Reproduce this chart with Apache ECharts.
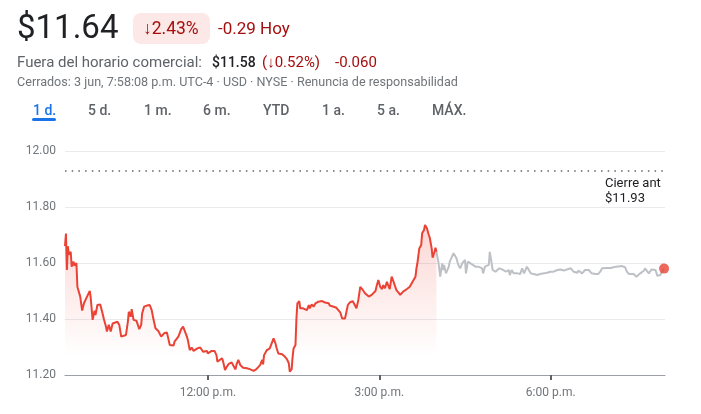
<!DOCTYPE html>
<html>
<head>
<meta charset="utf-8">
<script src="https://cdn.jsdelivr.net/npm/echarts@6/dist/echarts.min.js"></script>
<style>
  html, body { margin: 0; padding: 0; background: #fff; }
  #chart { width: 701px; height: 414px; }
</style>
</head>
<body>
<div id="chart"></div>
<script>
// minutos desde medianoche, precio
const regular = [
  [570, 11.66], [571, 11.705], [572, 11.575], [573, 11.66], [574, 11.63], [576, 11.64], [577, 11.587],
  [579, 11.605], [580, 11.59], [582, 11.60], [583, 11.515], [586, 11.48], [588, 11.43], [590, 11.457],
  [594, 11.486], [596, 11.50], [597, 11.476], [599, 11.397], [601, 11.43], [602, 11.414], [604, 11.45],
  [607, 11.452], [609, 11.426], [611, 11.397], [613, 11.373], [614, 11.355], [616, 11.379], [618, 11.355],
  [620, 11.384], [622, 11.388], [625, 11.39], [627, 11.379], [629, 11.337], [631, 11.333], [634, 11.343],
  [636, 11.39], [637, 11.426], [639, 11.408], [640, 11.435], [642, 11.397], [645, 11.394], [646, 11.39],
  [648, 11.364], [650, 11.379], [651, 11.42], [653, 11.444], [656, 11.448], [659, 11.45], [661, 11.432],
  [663, 11.397], [665, 11.367], [668, 11.357], [670, 11.355], [671, 11.337], [674, 11.349], [677, 11.352],
  [678, 11.337], [680, 11.307], [682, 11.313], [684, 11.305], [685, 11.319], [687, 11.325], [689, 11.337],
  [691, 11.331], [692, 11.364], [694, 11.373], [696, 11.355], [698, 11.337], [699, 11.325], [701, 11.289],
  [703, 11.298], [705, 11.286], [706, 11.293], [709, 11.295], [712, 11.298], [713, 11.293], [715, 11.283],
  [717, 11.281], [719, 11.286], [720, 11.277], [722, 11.283], [724, 11.286], [727, 11.286], [729, 11.271],
  [730, 11.248], [732, 11.254], [735, 11.26], [736, 11.248], [738, 11.218], [740, 11.23], [742, 11.24],
  [743, 11.238], [745, 11.245], [747, 11.24], [749, 11.22], [750, 11.236], [752, 11.254], [754, 11.236],
  [756, 11.236], [757, 11.226], [759, 11.233], [761, 11.224], [763, 11.23], [764, 11.221], [766, 11.226],
  [768, 11.215], [770, 11.214], [771, 11.221], [773, 11.214], [775, 11.236], [777, 11.254], [778, 11.238],
  [779, 11.271], [781, 11.265], [782, 11.289], [784, 11.283], [785, 11.295], [787, 11.313], [789, 11.331],
  [791, 11.313], [792, 11.298], [794, 11.277], [796, 11.271], [798, 11.274], [799, 11.269], [801, 11.265],
  [803, 11.257], [805, 11.242], [806, 11.212], [808, 11.221], [809, 11.265], [810, 11.295], [812, 11.307],
  [813, 11.402], [814, 11.456], [816, 11.464], [817, 11.438], [819, 11.432], [820, 11.438], [822, 11.444],
  [824, 11.432], [826, 11.45], [827, 11.438], [829, 11.452], [831, 11.444], [833, 11.456], [834, 11.452],
  [836, 11.462], [838, 11.459], [840, 11.464], [841, 11.471], [843, 11.459], [845, 11.452], [847, 11.456],
  [848, 11.448], [850, 11.448], [852, 11.444], [854, 11.448], [855, 11.44], [857, 11.438], [859, 11.424],
  [861, 11.402], [862, 11.396], [864, 11.402], [867, 11.45], [869, 11.459], [872, 11.464], [874, 11.452],
  [876, 11.438], [878, 11.468], [880, 11.515], [882, 11.507], [883, 11.51], [885, 11.492], [887, 11.495],
  [889, 11.48], [890, 11.474], [892, 11.486], [894, 11.492], [896, 11.50], [897, 11.515], [899, 11.539],
  [901, 11.515], [903, 11.507], [904, 11.521], [906, 11.51], [908, 11.533], [910, 11.515], [911, 11.507],
  [913, 11.551], [915, 11.533], [917, 11.527], [918, 11.503], [920, 11.495], [922, 11.486], [924, 11.492],
  [925, 11.498], [927, 11.503], [929, 11.507], [931, 11.51], [932, 11.515], [934, 11.519], [936, 11.539],
  [938, 11.551], [939, 11.581], [940, 11.599], [942, 11.652], [944, 11.664], [945, 11.706], [947, 11.718],
  [948, 11.736], [950, 11.724], [952, 11.70], [953, 11.69], [955, 11.652], [956, 11.619], [958, 11.64],
  [959, 11.655], [960, 11.64]
];

// fuera del horario comercial
const afterHours = [
  [960, 11.64], [962, 11.605], [964, 11.551], [966, 11.599], [967, 11.575], [968, 11.593], [970, 11.563],
  [973, 11.587], [974, 11.605], [976, 11.611], [978, 11.635], [980, 11.64], [981, 11.617], [983, 11.593],
  [985, 11.581], [987, 11.599], [988, 11.605], [990, 11.611], [991, 11.563], [993, 11.605], [995, 11.599],
  [997, 11.596], [999, 11.593], [1001, 11.587], [1002, 11.593], [1004, 11.587], [1006, 11.593], [1008, 11.581],
  [1009, 11.563], [1011, 11.587], [1013, 11.589], [1015, 11.593], [1016, 11.64], [1018, 11.599], [1019, 11.575],
  [1022, 11.569], [1023, 11.563], [1026, 11.581], [1029, 11.577], [1030, 11.575], [1033, 11.569], [1036, 11.575],
  [1037, 11.557], [1039, 11.575], [1041, 11.563], [1043, 11.561], [1045, 11.563], [1046, 11.565], [1048, 11.561],
  [1050, 11.581], [1052, 11.563], [1053, 11.569], [1055, 11.587], [1057, 11.575], [1059, 11.563], [1060, 11.557],
  [1062, 11.561], [1064, 11.563], [1066, 11.557], [1067, 11.563], [1069, 11.561], [1071, 11.565], [1073, 11.563],
  [1074, 11.569], [1076, 11.565], [1078, 11.563], [1080, 11.569], [1081, 11.565], [1083, 11.569], [1085, 11.573],
  [1087, 11.575], [1088, 11.569], [1090, 11.577], [1092, 11.575], [1094, 11.573], [1095, 11.575], [1097, 11.577],
  [1099, 11.575], [1101, 11.581], [1102, 11.575], [1104, 11.569], [1106, 11.563], [1108, 11.565], [1109, 11.573],
  [1111, 11.569], [1113, 11.563], [1115, 11.565], [1116, 11.575], [1118, 11.581], [1120, 11.575], [1122, 11.569],
  [1123, 11.563], [1125, 11.561], [1127, 11.561], [1129, 11.563], [1130, 11.561], [1132, 11.569], [1134, 11.581],
  [1136, 11.581], [1139, 11.582], [1143, 11.582], [1146, 11.585], [1149, 11.587], [1151, 11.589], [1155, 11.589],
  [1157, 11.587], [1158, 11.585], [1160, 11.569], [1162, 11.561], [1164, 11.561], [1167, 11.561], [1170, 11.551],
  [1172, 11.557], [1174, 11.563], [1176, 11.569], [1178, 11.573], [1179, 11.581], [1181, 11.575], [1183, 11.563],
  [1185, 11.569], [1186, 11.577], [1188, 11.583], [1190, 11.575], [1192, 11.554], [1193, 11.551], [1195, 11.557],
  [1197, 11.561], [1199, 11.58]
];

const prevClose = 11.93;
const timeTicks = [720, 900, 1080];
const timeLabels = ['12:00 p.m.', '3:00 p.m.', '6:00 p.m.'];
const tabs = ['1 d.', '5 d.', '1 m.', '6 m.', 'YTD', '1 a.', '5 a.', 'MÁX.'];
const tabX = [33, 88, 144, 203, 263, 322, 377, 432];

const RED = '#ea4335';
const DARK_RED = '#a50e0e';
const FONT = 'Roboto, "Noto Sans", sans-serif';

let chart = echarts.init(document.getElementById('chart'), null, { renderer: 'canvas' });

function txt(x, y, text, size, color, weight) {
    return {
        type: 'text',
        silent: true,
        style: {
            x: x, y: y, text: text,
            font: (weight || 400) + ' ' + size + 'px ' + FONT,
            fill: color,
            textVerticalAlign: 'middle'
        }
    };
}

let graphics = [
    txt(17, 30, '$11.64', 33, '#202124'),
    { type: 'rect', silent: true, shape: { x: 133, y: 13, width: 77, height: 31, r: 8 }, style: { fill: '#fce8e6' } },
    txt(143, 29.5, '↓2.43%', 17.5, DARK_RED),
    txt(218, 29.5, '-0.29 Hoy', 17, DARK_RED),
    txt(17, 63, 'Fuera del horario comercial:', 15, '#5f6368'),
    txt(212, 63, '$11.58', 14, '#202124', 500),
    txt(262, 63, '(↓0.52%)', 15, DARK_RED),
    txt(335, 63, '-0.060', 15, DARK_RED),
    txt(17, 83, 'Cerrados: 3 jun, 7:58:08 p.m. UTC-4 · USD · NYSE · Renuncia de responsabilidad', 12.6, '#70757a'),
    { type: 'rect', silent: true, shape: { x: 32, y: 118, width: 24, height: 3, r: 1.5 }, style: { fill: '#1a73e8' } },
    txt(605, 183.5, 'Cierre ant', 13, '#202124'),
    txt(605, 198.5, '$' + prevClose.toFixed(2), 13, '#202124')
];
tabs.forEach(function (t, i) {
    graphics.push(txt(tabX[i], 111.5, t, 14, i === 0 ? '#1a73e8' : '#5f6368', 500));
});

let option = {
    animation: false,
    backgroundColor: '#ffffff',
    graphic: graphics,
    grid: { left: 65, right: 36, top: 151, bottom: 39 },
    xAxis: {
        type: 'value',
        min: 570,
        max: 1200,
        axisLine: { show: true, lineStyle: { color: '#9aa0a6', width: 1 } },
        axisTick: {
            show: true,
            customValues: timeTicks,
            length: 5,
            lineStyle: { color: '#5f6368', width: 2 }
        },
        axisLabel: {
            customValues: timeTicks,
            margin: 12,
            color: '#70757a',
            fontSize: 12,
            fontFamily: FONT,
            formatter: function (v) {
                let i = timeTicks.indexOf(v);
                return i >= 0 ? timeLabels[i] : '';
            }
        },
        splitLine: { show: false }
    },
    yAxis: {
        type: 'value',
        min: 11.2,
        max: 12.0,
        interval: 0.2,
        axisLine: { show: false },
        axisTick: { show: false },
        axisLabel: {
            margin: 9,
            color: '#70757a',
            fontSize: 12,
            fontFamily: FONT,
            formatter: function (v) { return v.toFixed(2); }
        },
        splitLine: { lineStyle: { color: '#e8eaed', width: 1 } }
    },
    series: [
        {
            type: 'line',
            data: afterHours,
            showSymbol: false,
            symbol: 'none',
            z: 2,
            lineStyle: { color: '#bdc1c6', width: 2 },
            markLine: {
                silent: true,
                symbol: 'none',
                label: { show: false },
                lineStyle: { type: [1.5, 5.2], color: '#5f6368', width: 1.5 },
                data: [{ yAxis: prevClose }]
            }
        },
        {
            type: 'line',
            data: regular,
            showSymbol: false,
            symbol: 'none',
            z: 3,
            lineStyle: { color: RED, width: 2 },
            areaStyle: {
                color: {
                    type: 'linear', x: 0, y: 0, x2: 0, y2: 1,
                    colorStops: [
                        { offset: 0, color: 'rgba(234,67,53,0.30)' },
                        { offset: 0.88, color: 'rgba(234,67,53,0)' },
                        { offset: 1, color: 'rgba(234,67,53,0)' }
                    ]
                }
            }
        },
        {
            type: 'scatter',
            data: [afterHours[afterHours.length - 1]],
            symbolSize: 10,
            z: 4,
            itemStyle: { color: RED }
        }
    ]
};

chart.setOption(option);
</script>
</body>
</html>
